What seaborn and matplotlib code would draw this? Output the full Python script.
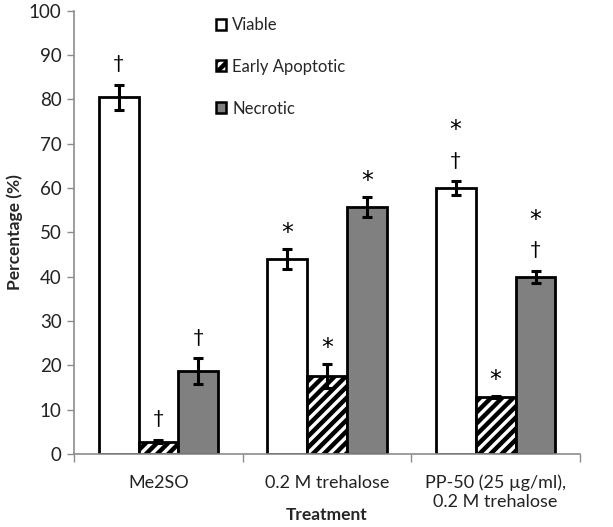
import numpy as np
import pandas as pd
import matplotlib
matplotlib.use("Agg")
import matplotlib.pyplot as plt
from matplotlib.patches import Patch
import seaborn as sns

# Values
TREATMENTS = ["Me2SO", "0.2 M trehalose", "PP-50 (25 \u00b5g/ml),\n0.2 M trehalose"]
STATES = ["Viable", "Early Apoptotic", "Necrotic"]
VIABLE = [80.5, 44.0, 60.0]
EARLY = [2.8, 17.6, 12.9]
NECROTIC = [18.7, 55.7, 39.9]
VIABLE_ERR = [2.8, 2.3, 1.5]
EARLY_ERR = [0.3, 2.7, 0.3]
NECROTIC_ERR = [2.9, 2.3, 1.4]
# significance marks, listed from the bar upwards
MARKS_VIABLE = [["\u2020"], ["*"], ["\u2020", "*"]]
MARKS_EARLY = [["\u2020"], ["*"], ["*"]]
MARKS_NECROTIC = [["\u2020"], ["*"], ["\u2020", "*"]]

COLORS = ["white", "white", "#808080"]
HATCHES = ["", "///", ""]
AXIS_GREY = "#8c8c8c"

sns.set_theme(style="white")
plt.rcParams["font.family"] = ["Lato", "DejaVu Sans"]
plt.rcParams["hatch.linewidth"] = 3.2
plt.rcParams["hatch.color"] = "black"

df = pd.DataFrame({
    "Treatment": TREATMENTS * 3,
    "State": np.repeat(STATES, len(TREATMENTS)),
    "Percentage": VIABLE + EARLY + NECROTIC,
})
errs = [VIABLE_ERR, EARLY_ERR, NECROTIC_ERR]
marks = [MARKS_VIABLE, MARKS_EARLY, MARKS_NECROTIC]

fig = plt.figure(figsize=(6.13, 5.27), dpi=100)
ax = fig.add_axes([0.121, 0.1385, 0.825, 0.841])

sns.barplot(data=df, x="Treatment", y="Percentage", hue="State",
            hue_order=STATES, order=TREATMENTS, palette=COLORS,
            edgecolor="black", linewidth=2.0, width=0.71,
            errorbar=None, legend=False, ax=ax, saturation=1)

for cont, hatch, err, mk in zip(ax.containers, HATCHES, errs, marks):
    xs, ys = [], []
    for bar in cont:
        bar.set_hatch(hatch)
        xs.append(bar.get_x() + bar.get_width() / 2)
        ys.append(bar.get_height())
    ax.errorbar(xs, ys, yerr=err, fmt="none", ecolor="black",
                elinewidth=2.2, capsize=3.5, capthick=2.2, zorder=5)
    for x, y, e, syms in zip(xs, ys, err, mk):
        level = y + e + 4.8
        for s in syms:
            if s == "*":
                ax.text(x, level - 1.2, s, ha="center", va="center",
                        fontsize=17, family="DejaVu Sans", color="black")
            else:
                ax.text(x, level, s, ha="center", va="center", fontsize=14,
                        color="black")
            level += 8.0

ax.set_ylim(0, 100)
ax.set_xlim(-0.5, 2.5)
ax.set_yticks(np.arange(0, 101, 10))
ax.tick_params(axis="y", left=True, length=5, color=AXIS_GREY, width=1,
               labelsize=13.5, labelcolor="#222222", pad=4)
ax.set_xticks([0, 1, 2])
ax.set_xticklabels(TREATMENTS, fontsize=13, color="#222222")
ax.set_xticks([-0.5, 0.5, 1.5, 2.5], minor=True)
ax.tick_params(axis="x", which="major", bottom=False, pad=9)
ax.tick_params(axis="x", which="minor", bottom=True, length=6,
               color=AXIS_GREY, width=1)

for side in ["top", "right"]:
    ax.spines[side].set_visible(False)
for side in ["left", "bottom"]:
    ax.spines[side].set_color(AXIS_GREY)
    ax.spines[side].set_linewidth(1.2)

ax.set_ylabel("Percentage (%)", fontsize=12.5, fontweight="bold", labelpad=4)
ax.set_xlabel("Treatment", fontsize=12.5, fontweight="bold")
ax.xaxis.set_label_coords(0.5, -0.138)
ax.xaxis.label.set_va("center")

handles = [Patch(facecolor=c, edgecolor="black", linewidth=1.8, hatch=h, label=s)
           for c, h, s in zip(COLORS, HATCHES, STATES)]
ax.legend(handles=handles, loc="upper left", bbox_to_anchor=(0.25, 1.02),
          frameon=False, fontsize=12, handlelength=0.65, handleheight=0.65,
          handletextpad=0.35, labelspacing=1.55)

fig.savefig("out.png", dpi=100)
